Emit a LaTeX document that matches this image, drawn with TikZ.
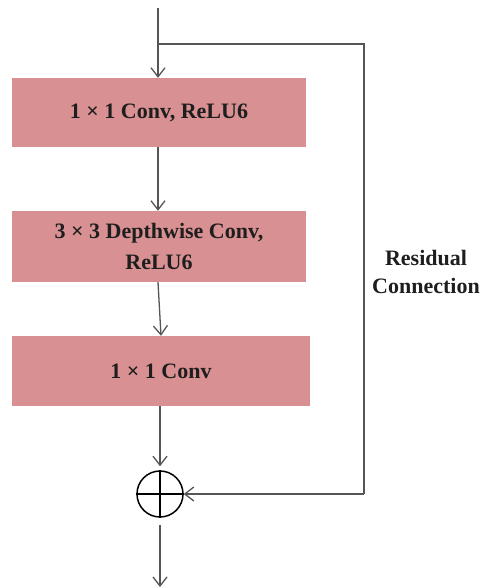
\documentclass[tikz,border=0pt]{standalone}
\usepackage{fontspec}
\setmainfont{Liberation Serif}
\usetikzlibrary{arrows.meta}
\definecolor{blockfill}{RGB}{217,144,146}
\definecolor{wire}{RGB}{85,85,85}
\definecolor{ink}{RGB}{30,30,30}
\begin{document}
\begin{tikzpicture}[x=1pt,y=-1pt,
  layer/.style={rectangle, fill=blockfill, draw=none, inner sep=0pt,
    font=\fontsize{22}{31}\selectfont\bfseries, text=ink, align=center},
  flow/.style={draw=wire, line width=1.3pt,
    -{Straight Barb[length=9pt,width=14pt,line width=1.3pt]}},
  link/.style={draw=wire, line width=1.3pt},
  adder/.style={circle, draw=black, line width=1.5pt, minimum size=46pt, inner sep=0pt}]
  \useasboundingbox (0,0) rectangle (479,588);

  % main path blocks
  \node[layer, minimum width=294pt, minimum height=69pt] (b1) at (159,112.5) {1 × 1 Conv, ReLU6};
  \node[layer, minimum width=294pt, minimum height=71pt] (b2) at (159,246.5) {3 × 3 Depthwise Conv,\\ReLU6};
  \node[layer, minimum width=298pt, minimum height=70pt] (b3) at (161,371) {1 × 1 Conv};

  % element-wise addition
  \node[adder] (sum) at (160,494) {};
  \draw[black, line width=1.5pt] (sum.north) -- (sum.south) (sum.west) -- (sum.east);

  % connection points
  \coordinate (in) at (158,8);
  \coordinate (split) at (158,44);
  \coordinate (rtop) at (364,44);
  \coordinate (rbot) at (364,494);
  \coordinate (out) at (160,587);

  % forward connections
  \draw[flow] (in) -- (b1.north -| in);
  \draw[flow] (b1.south -| in) -- (b2.north -| in);
  \draw[flow] (b2.south -| in) -- (b3.north);
  \draw[flow, shorten >=4pt] (b3.south -| sum) -- (sum.north);
  \draw[flow, shorten <=7pt] (sum.south) -- (out);

  % residual connection
  \draw[link] (split) -- (rtop) -- (rbot);
  \draw[flow] (rbot) -- (sum.east);

  \node[font=\fontsize{22}{28}\selectfont\bfseries, text=ink, align=center] (lbl) at (426,272) {Residual\\Connection};
\end{tikzpicture}
\end{document}
